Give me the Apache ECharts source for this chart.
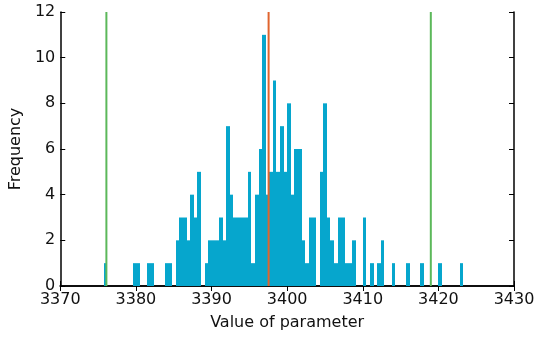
<!DOCTYPE html>
<html>
<head>
<meta charset="utf-8">
<script src="https://cdn.jsdelivr.net/npm/echarts@6/dist/echarts.min.js"></script>
<style>html,body{margin:0;padding:0;background:#fff}#c{width:538px;height:338px}</style>
</head>
<body>
<div id="c"></div>
<script>
// Histogram definition
const binStart = 3375.77;
const binWidth = 0.4755;
const counts = [
  1,0,0,0,0,0,0,0,1,1,
  0,0,1,1,0,0,0,1,1,0,
  2,3,3,2,4,3,5,0,1,2,
  2,2,3,2,7,4,3,3,3,3,
  5,1,4,6,11,4,5,9,5,7,
  5,8,4,6,6,2,1,3,3,0,
  5,8,3,2,1,3,3,1,1,2,
  0,0,3,0,1,0,1,2,0,0,
  1,0,0,0,1,0,0,0,1,0,
  0,0,0,1,0,0,0,0,0,1
];
const xMin = 3370, xMax = 3430, xStep = 10;
const yMin = 0, yMax = 12, yStep = 2;
const greenLines = [3376.1, 3419.0];
const redLine = 3397.55;
const xLabel = 'Value of parameter';
const yLabel = 'Frequency';

const histData = counts.map((c, i) => [binStart + i * binWidth, binStart + (i + 1) * binWidth, c]);

const font = 'DejaVu Sans';
const chart = echarts.init(document.getElementById('c'), null, {renderer: 'canvas'});
const frame = {show: true, lineStyle: {color: '#000', width: 1.5}};
const tick = {show: true, inside: true, length: 5, lineStyle: {color: '#000', width: 1}};
const plain = v => String(v);
chart.setOption({
  animation: false,
  backgroundColor: '#fff',
  grid: {left: 56, right: 24, top: 12, bottom: 52, containLabel: false},
  xAxis: [
    {type: 'value', min: xMin, max: xMax, interval: xStep, position: 'bottom',
     axisLine: frame, axisTick: tick, splitLine: {show: false},
     axisLabel: {color: '#111', fontFamily: font, fontSize: 16, margin: 6, formatter: plain},
     name: xLabel, nameLocation: 'middle', nameGap: 29,
     nameTextStyle: {color: '#111', fontFamily: font, fontSize: 16}},
    {type: 'value', min: xMin, max: xMax, interval: xStep, position: 'top',
     axisLine: frame, axisTick: tick, splitLine: {show: false}, axisLabel: {show: false}}
  ],
  yAxis: [
    {type: 'value', min: yMin, max: yMax, interval: yStep, position: 'left',
     axisLine: frame, axisTick: tick, splitLine: {show: false},
     axisLabel: {color: '#111', fontFamily: font, fontSize: 16, margin: 5, formatter: plain},
     name: yLabel, nameLocation: 'middle', nameGap: 33, nameRotate: 90,
     nameTextStyle: {color: '#111', fontFamily: font, fontSize: 16}},
    {type: 'value', min: yMin, max: yMax, interval: yStep, position: 'right',
     axisLine: frame, axisTick: tick, splitLine: {show: false}, axisLabel: {show: false}}
  ],
  series: [
    {
      type: 'custom',
      data: histData,
      encode: {x: [0, 1], y: 2},
      z: 2,
      renderItem: function (params, api) {
        const c = api.value(2);
        if (!c) return null;
        const p0 = api.coord([api.value(0), c]);
        const p1 = api.coord([api.value(1), 0]);
        const x0 = Math.round(p0[0]), x1 = Math.round(p1[0]);
        return {
          type: 'rect',
          shape: {x: x0, y: p0[1], width: Math.max(1, x1 - x0), height: p1[1] - p0[1]},
          style: {fill: '#06a6cd'}
        };
      }
    },
    {type: 'line', data: [[greenLines[0], yMin], [greenLines[0], yMax]], showSymbol: false, z: 5,
     lineStyle: {color: '#5cb85a', width: 2}, silent: true},
    {type: 'line', data: [[greenLines[1], yMin], [greenLines[1], yMax]], showSymbol: false, z: 5,
     lineStyle: {color: '#5cb85a', width: 2}, silent: true},
    {type: 'line', data: [[redLine, yMin], [redLine, yMax]], showSymbol: false, z: 5,
     lineStyle: {color: '#e0642e', width: 2}, silent: true}
  ]
});
</script>
</body>
</html>
